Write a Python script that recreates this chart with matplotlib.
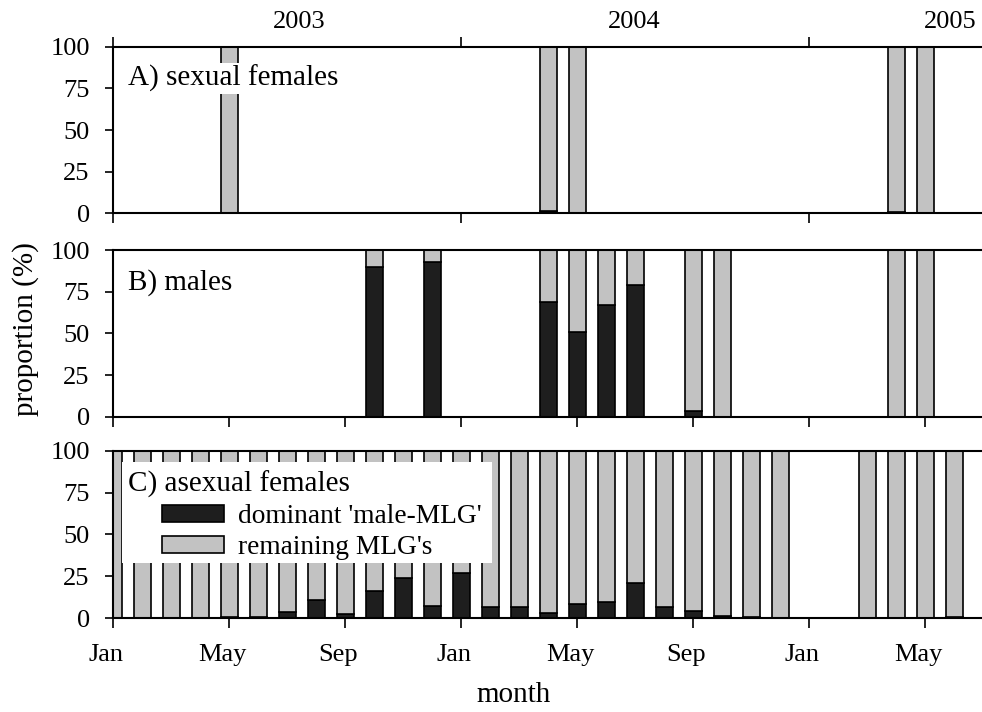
import matplotlib
matplotlib.use("Agg")
import matplotlib.pyplot as plt
import matplotlib.transforms as mtransforms
from matplotlib.patches import Patch, Rectangle

plt.rcParams['font.family'] = ['Liberation Serif', 'DejaVu Serif']

# month index: 0 = Jan 2003
tick_months = [0, 4, 8, 12, 16, 20, 24, 28]
tick_labels = ['Jan', 'May', 'Sep', 'Jan', 'May', 'Sep', 'Jan', 'May']
year_months = [0, 12, 24]
year_labels = ['2003', '2004', '2005']
year_label_pos = [6.4, 17.95, 28.85]

# A) sexual females
a_months = [4, 15, 16, 27, 28]
a_dominant = [0, 1.5, 0, 1, 0]

# B) males
b_months = [9, 11, 15, 16, 17, 18, 20, 21, 27, 28]
b_dominant = [90, 93, 69, 51, 67, 79, 3.5, 0, 0, 0]

# C) asexual females
c_months = list(range(0, 24)) + [26, 27, 28, 29]
c_dominant = [0, 0, 0, 0, 0.5, 0.5, 4, 11, 2.5, 16, 24, 7.5, 27, 7,
              6.5, 3, 8.5, 10, 21, 7, 4.5, 1.5, 1, 0, 0, 0, 0, 0.5]

dark = '#1e1e1e'
grey = '#c2c2c2'
fs_tick = 19
fs_lab = 21

fig = plt.figure(figsize=(9.82, 7.12), dpi=100)
left, width = 0.1154, 0.8846
ax_a = fig.add_axes([left, 0.7004, width, 0.234])
ax_b = fig.add_axes([left, 0.4147, width, 0.2341])
ax_c = fig.add_axes([left, 0.1316, width, 0.2354])


def draw(ax, months, dom):
    rest = [100 - d for d in dom]
    ax.bar(months, dom, width=0.6, color=dark, edgecolor='black', lw=1.2, zorder=2)
    ax.bar(months, rest, bottom=dom, width=0.6, color=grey, edgecolor='black',
           lw=1.2, zorder=2)
    ax.set_xlim(0, 29.95)
    ax.set_ylim(0, 100)
    ax.set_yticks([0, 25, 50, 75, 100])
    ax.spines['right'].set_visible(False)
    for s in ['left', 'top', 'bottom']:
        ax.spines[s].set_linewidth(1.5)
    ax.tick_params(axis='y', direction='out', length=6, width=1.2, pad=11,
                   labelsize=fs_tick)
    ax.tick_params(axis='x', direction='out', length=7, width=1.2, pad=11.5,
                   labelsize=fs_tick)


draw(ax_a, a_months, a_dominant)
draw(ax_b, b_months, b_dominant)
draw(ax_c, c_months, c_dominant)

# panel A: yearly ticks top and bottom, year names above
ax_a.set_xticks(year_months)
ax_a.tick_params(axis='x', top=True, labelbottom=False)
for pos, lab in zip(year_label_pos, year_labels):
    ax_a.text(pos, 1.112, lab, transform=ax_a.get_xaxis_transform(),
              ha='center', va='baseline', fontsize=fs_tick)

ax_b.set_xticks(tick_months)
ax_b.tick_params(axis='x', labelbottom=False)

ax_c.set_xticks(tick_months)
ax_c.set_xticklabels(tick_labels)
shift = mtransforms.ScaledTranslation(-7 / 100, 0, fig.dpi_scale_trans)
for lab in ax_c.get_xticklabels():
    lab.set_transform(lab.get_transform() + shift)

# panel labels
ax_a.text(0.017, 0.765, 'A) sexual females', transform=ax_a.transAxes,
          fontsize=fs_lab, va='baseline', zorder=4,
          bbox=dict(boxstyle='square,pad=0.05', facecolor='white', edgecolor='none'))
ax_b.text(0.017, 0.765, 'B) males', transform=ax_b.transAxes,
          fontsize=fs_lab, va='baseline', zorder=4)

ax_c.add_patch(Rectangle((0.010, 0.33), 0.426, 0.603, transform=ax_c.transAxes,
                         facecolor='white', edgecolor='none', zorder=3))
ax_c.text(0.017, 0.754, 'C) asexual females', transform=ax_c.transAxes,
          fontsize=fs_lab, va='baseline', zorder=4)
handles = [Patch(facecolor=dark, edgecolor='black', lw=1.2),
           Patch(facecolor=grey, edgecolor='black', lw=1.2)]
leg = ax_c.legend(handles, ["dominant 'male-MLG'", "remaining MLG's"],
                  loc='upper left', bbox_to_anchor=(0.056, 0.68),
                  frameon=False, fontsize=19.7, borderpad=0, borderaxespad=0,
                  handlelength=2.28, handleheight=0.6, handletextpad=0.5,
                  labelspacing=0.22)
leg.set_zorder(5)

ax_b.set_ylabel('proportion (%)', fontsize=fs_lab)
ax_b.yaxis.set_label_coords(-0.1016, 0.526)
ax_b.yaxis.label.set_va('center')
ax_c.set_xlabel('month', fontsize=fs_lab)
ax_c.xaxis.set_label_coords(0.461, -0.458)
ax_c.xaxis.label.set_va('center')

fig.savefig('out.png', dpi=100)
